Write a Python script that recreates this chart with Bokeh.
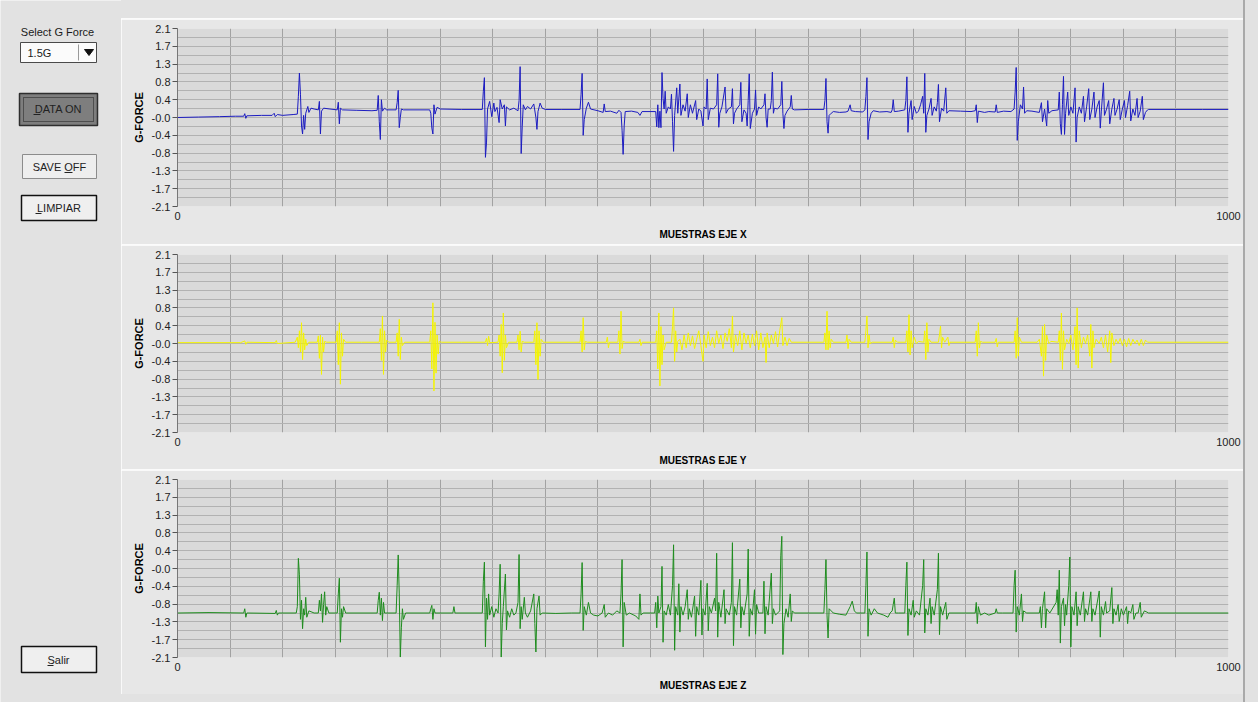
from bokeh.plotting import figure
from bokeh.models import FixedTicker, Spacer, PrintfTickFormatter
from bokeh.layouts import row, column
from bokeh.core.properties import value
from bokeh.embed import file_html
from bokeh.resources import INLINE

# ---------------- data ----------------
G_TICKS = [2.1, 1.68, 1.26, 0.84, 0.42, 0.0, -0.42, -0.84, -1.26, -1.68, -2.1]
G_TICK_LABELS = ["2.1", "1.7", "1.3", "0.8", "0.4", "-0.0", "-0.4", "-0.8", "-1.3", "-1.7", "-2.1"]
G_GRID = [2.1, 1.89, 1.68, 1.47, 1.26, 1.05, 0.84, 0.63, 0.42, 0.21, 0.0,
          -0.21, -0.42, -0.63, -0.84, -1.05, -1.26, -1.47, -1.68, -1.89, -2.1]
X_TICKS = [0, 1000]
X_GRID = [0, 50, 100, 150, 200, 250, 300, 350, 400, 450, 500, 550, 600, 650, 700,
          750, 800, 850, 900, 950, 1000]
AXIS_TITLES = ["MUESTRAS EJE X", "MUESTRAS EJE Y", "MUESTRAS EJE Z"]
Y_TITLE = "G-FORCE"

# (sample, g-force) key points
EJE_X = [
    (0, 0.00), (20, 0.01), (40, 0.02), (55, 0.03), (63, 0.03), (64, 0.09), (65, -0.02), (66, 0.04),
    (80, 0.05), (90, 0.05), (92, 0.10), (93, 0.02), (95, 0.07), (100, 0.05), (110, 0.07),
    (114, 0.08), (115, 0.50), (116, 1.05), (117, 0.55), (118, -0.20), (119, -0.39), (120, 0.05),
    (121, -0.28), (122, 0.10), (124, 0.26), (125, 0.12), (127, 0.22), (130, 0.20), (134, 0.18),
    (135, 0.38), (136, -0.39), (137, 0.15), (139, 0.22), (145, 0.20), (152, 0.18), (153, 0.36),
    (154, -0.15), (155, 0.22), (157, 0.18), (170, 0.17), (185, 0.16), (190, 0.17), (191, 0.52),
    (192, -0.10), (193, -0.52), (194, 0.42), (195, 0.15), (197, 0.22), (199, 0.18), (208, 0.18),
    (209, 0.35), (210, 0.64), (211, -0.24), (212, 0.00), (213, 0.20), (215, 0.18), (240, 0.18),
    (241, 0.10), (242, -0.25), (243, -0.39), (244, 0.30), (245, 0.08), (247, 0.24), (250, 0.20),
    (270, 0.19), (290, 0.19), (291, 0.62), (292, 0.94), (293, -0.94), (294, -0.60), (295, 0.20),
    (297, 0.38), (299, 0.02), (301, 0.34), (302, 0.14), (304, 0.24), (306, -0.12), (307, 0.42),
    (309, 0.20), (311, 0.30), (312, -0.20), (313, 0.25), (316, 0.18), (320, 0.22), (324, 0.16),
    (325, 0.40), (326, 1.20), (327, -0.85), (328, -0.22), (329, 0.30), (331, 0.18), (333, 0.26),
    (336, 0.20), (339, 0.32), (341, 0.00), (342, -0.28), (343, 0.14), (345, 0.34), (347, 0.22),
    (350, 0.19), (365, 0.19), (383, 0.19), (384, 0.55), (385, 1.04), (386, -0.42), (387, -0.05),
    (389, 0.22), (391, 0.36), (393, 0.20), (400, 0.16), (405, 0.12), (406, 0.32), (407, 0.14),
    (412, 0.15), (418, 0.10), (420, 0.17), (422, 0.12), (423, -0.30), (424, -0.87), (425, -0.20),
    (426, 0.14), (432, 0.15), (438, 0.12), (440, 0.05), (442, 0.14), (455, 0.14), (456, -0.22),
    (457, 0.30), (458, -0.24), (459, 0.15), (460, -0.24), (461, 1.06), (462, 0.45), (463, 0.20),
    (464, 0.62), (465, 0.10), (467, 0.25), (469, 0.20), (470, 0.55), (471, -0.10), (472, -0.80),
    (473, 0.05), (475, 0.70), (476, 0.10), (478, 0.79), (479, 0.05), (481, 0.30), (483, 0.15),
    (485, 0.56), (486, 0.00), (488, 0.30), (490, 0.10), (493, 0.40), (494, -0.05), (496, 0.20),
    (498, 0.15), (500, -0.20), (501, 0.25), (503, 0.20), (504, 0.91), (505, -0.05), (507, 0.22),
    (510, 0.20), (513, 0.30), (514, 1.03), (515, -0.23), (516, 0.10), (518, 0.25), (521, 0.72),
    (522, 0.10), (524, 0.20), (527, 0.25), (528, 0.68), (529, -0.15), (530, 0.10), (532, 0.20),
    (535, 0.30), (536, 0.83), (537, -0.10), (539, 0.18), (541, 0.10), (542, -0.20), (543, 0.40),
    (544, 1.03), (545, -0.26), (547, 0.10), (549, 0.20), (550, 0.65), (551, 0.05), (553, 0.25),
    (555, 0.20), (558, 0.30), (559, 0.56), (560, 0.00), (561, -0.23), (562, 0.20), (564, 0.20),
    (565, 0.40), (566, 1.07), (567, 0.10), (568, 0.22), (571, 0.20), (574, 0.30), (575, 0.85),
    (576, 0.10), (577, -0.26), (578, 0.05), (580, 0.15), (583, 0.25), (584, 0.52), (585, 0.20),
    (587, 0.18), (600, 0.19), (615, 0.19), (616, 0.40), (617, 0.92), (618, -0.10), (619, -0.37),
    (620, 0.05), (622, 0.10), (624, 0.14), (630, 0.12), (636, 0.13), (638, 0.15), (640, 0.30),
    (641, 0.16), (645, 0.14), (652, 0.13), (654, 0.18), (655, 0.50), (656, 0.94), (657, -0.52),
    (658, -0.10), (660, 0.10), (662, 0.16), (668, 0.13), (675, 0.14), (679, 0.12), (680, 0.18),
    (681, 0.42), (682, 0.14), (686, 0.15), (692, 0.18), (693, 0.40), (694, 0.96), (695, -0.35),
    (696, 0.10), (698, 0.40), (699, -0.05), (701, 0.26), (703, 0.10), (705, 0.15), (707, 0.30),
    (709, 0.50), (710, 0.10), (711, 1.04), (712, -0.35), (713, 0.05), (715, 0.20), (717, 0.45),
    (718, 0.05), (720, 0.25), (722, 0.15), (723, 0.35), (724, 0.78), (725, -0.10), (727, 0.22),
    (729, 0.15), (731, 0.70), (732, 0.10), (734, 0.16), (745, 0.15), (755, 0.14), (759, 0.16),
    (760, 0.30), (761, -0.12), (762, 0.15), (768, 0.12), (772, 0.14), (778, 0.13), (779, 0.30),
    (780, 0.12), (786, 0.15), (793, 0.14), (796, 0.20), (797, 0.60), (798, 1.18), (799, -0.54),
    (800, -0.10), (802, 0.30), (804, 0.20), (805, 0.72), (806, 0.10), (808, 0.16), (813, 0.15),
    (820, 0.12), (822, 0.35), (823, -0.10), (825, 0.20), (827, -0.20), (828, 0.40), (829, 0.10),
    (832, 0.16), (838, 0.18), (839, 0.60), (840, -0.15), (841, -0.40), (842, 0.30), (843, 0.97),
    (844, -0.40), (845, 0.10), (847, 0.60), (848, 0.05), (850, 0.25), (852, 0.10), (854, 0.70),
    (855, -0.58), (856, 0.00), (858, 0.25), (860, 0.10), (862, 0.50), (863, -0.10), (865, 0.25),
    (867, 0.68), (868, -0.05), (870, 0.20), (872, 0.60), (873, 0.00), (875, 0.25), (877, 0.40),
    (878, -0.25), (879, 0.15), (881, 0.82), (882, 0.05), (884, 0.20), (886, 0.40), (887, -0.15),
    (889, 0.20), (891, 0.45), (892, 0.05), (894, 0.20), (896, 0.42), (897, -0.05), (899, 0.20),
    (901, 0.40), (902, 0.00), (904, 0.28), (906, 0.62), (907, -0.08), (909, 0.20), (911, 0.05),
    (913, 0.45), (914, 0.00), (916, 0.15), (918, 0.50), (919, -0.05), (921, 0.12), (923, 0.18),
    (924, 0.19), (950, 0.19), (975, 0.19), (1000, 0.19),
]

EJE_Y = [
    (0, 0.02), (60, 0.02), (64, 0.06), (65, -0.02), (66, 0.03), (93, 0.02), (94, 0.07), (95, 0.00),
    (112, 0.03), (114, 0.15), (115, -0.10), (116, 0.30), (117, -0.20), (118, 0.49), (119, -0.38),
    (120, 0.25), (121, -0.15), (122, 0.10), (123, -0.05), (125, 0.03), (133, 0.03), (134, 0.18),
    (135, -0.35), (136, 0.20), (137, -0.73), (138, 0.15), (139, -0.20), (140, 0.05), (142, 0.03),
    (151, 0.03), (152, 0.30), (153, -0.50), (154, 0.49), (155, -0.96), (156, 0.25), (157, -0.30),
    (158, 0.10), (160, 0.03), (175, 0.03), (192, 0.03), (193, 0.35), (194, -0.40), (195, 0.65),
    (196, -0.73), (197, 0.30), (198, -0.20), (199, 0.08), (201, 0.03), (208, 0.03), (209, 0.25),
    (210, -0.30), (211, 0.57), (212, -0.38), (213, 0.15), (214, -0.05), (216, 0.03), (240, 0.03),
    (241, 0.30), (242, -0.60), (243, 0.96), (244, -1.12), (245, 0.50), (246, -0.70), (247, 0.20),
    (248, -0.25), (249, 0.05), (251, 0.03), (270, 0.03), (293, 0.03), (294, 0.12), (295, -0.05),
    (296, 0.17), (297, 0.02), (305, 0.03), (306, 0.20), (307, -0.30), (308, 0.45), (309, -0.69),
    (310, 0.72), (311, -0.40), (312, 0.20), (313, -0.10), (315, 0.03), (323, 0.03), (324, 0.20),
    (325, -0.15), (326, 0.29), (327, -0.20), (328, 0.05), (330, 0.03), (339, 0.03), (340, 0.30),
    (341, -0.50), (342, 0.49), (343, -0.85), (344, 0.30), (345, -0.30), (346, 0.10), (348, 0.03),
    (383, 0.03), (384, 0.30), (385, -0.20), (386, 0.61), (387, -0.15), (388, 0.05), (390, 0.03),
    (408, 0.03), (409, 0.15), (410, -0.10), (411, 0.03), (419, 0.03), (420, 0.30), (421, -0.25),
    (422, 0.76), (423, -0.12), (424, 0.05), (426, 0.03), (439, 0.03), (440, 0.10), (441, -0.05),
    (442, 0.03), (455, 0.03), (456, 0.30), (457, -0.60), (458, 0.72), (459, -1.00), (460, 0.40),
    (461, -0.50), (462, 0.20), (463, -0.15), (465, 0.03), (470, 0.03), (471, 0.40), (472, 0.84),
    (473, -0.42), (474, 0.30), (475, -0.20), (476, 0.05), (478, 0.10), (480, -0.15), (482, 0.20),
    (484, -0.10), (486, 0.25), (488, -0.05), (490, 0.18), (492, -0.12), (494, 0.10), (496, 0.30),
    (498, -0.05), (500, -0.42), (501, 0.20), (503, -0.10), (505, 0.28), (507, -0.05), (509, 0.15),
    (511, -0.10), (513, 0.30), (515, 0.00), (517, 0.20), (519, -0.12), (521, 0.25), (523, 0.05),
    (525, 0.35), (527, -0.10), (528, 0.65), (529, -0.20), (531, 0.20), (533, -0.05), (535, 0.30),
    (537, -0.15), (539, 0.25), (541, 0.00), (543, 0.20), (545, -0.10), (547, 0.22), (549, -0.05),
    (551, 0.30), (553, -0.15), (555, 0.25), (557, -0.10), (559, 0.15), (560, -0.45), (561, 0.25),
    (563, -0.10), (565, 0.20), (567, 0.00), (569, 0.28), (571, -0.08), (573, 0.30), (575, 0.61),
    (576, -0.05), (578, 0.15), (580, -0.05), (582, 0.12), (584, 0.03), (600, 0.03), (615, 0.03),
    (616, 0.25), (617, -0.15), (618, 0.76), (619, -0.15), (620, 0.30), (621, -0.10), (622, 0.10),
    (624, 0.03), (636, 0.03), (637, 0.20), (638, -0.12), (639, 0.10), (641, 0.03), (654, 0.03),
    (655, 0.30), (656, 0.65), (657, -0.10), (658, 0.20), (659, 0.00), (661, 0.03), (680, 0.03),
    (681, 0.15), (682, -0.10), (683, 0.08), (685, 0.03), (693, 0.03), (694, 0.30), (695, -0.20),
    (696, 0.68), (697, -0.27), (698, 0.30), (699, -0.10), (701, 0.15), (703, 0.00), (705, 0.05),
    (710, 0.03), (711, 0.30), (712, -0.38), (713, 0.49), (714, -0.20), (715, 0.10), (717, 0.03),
    (724, 0.03), (725, 0.20), (726, 0.41), (727, -0.10), (728, 0.15), (730, 0.03), (733, 0.15),
    (734, -0.05), (735, 0.03), (759, 0.03), (760, 0.30), (761, -0.30), (762, 0.49), (763, -0.10),
    (764, 0.05), (766, 0.03), (778, 0.03), (779, 0.12), (780, -0.08), (781, 0.03), (796, 0.03),
    (797, 0.30), (798, -0.35), (799, 0.61), (800, -0.30), (801, 0.15), (803, 0.03), (818, 0.03),
    (820, 0.10), (822, -0.30), (823, 0.40), (824, -0.77), (825, 0.45), (826, -0.40), (827, 0.20),
    (829, 0.00), (831, 0.05), (838, 0.03), (839, 0.30), (840, -0.40), (841, 0.72), (842, -0.61),
    (843, 0.30), (844, -0.15), (846, 0.10), (848, 0.00), (850, 0.20), (852, -0.15), (854, 0.40),
    (855, -0.50), (856, 0.84), (857, -0.58), (858, 0.30), (860, -0.10), (862, 0.15), (864, 0.00),
    (866, 0.20), (868, -0.30), (869, 0.45), (870, -0.58), (871, 0.30), (872, -0.10), (874, 0.10),
    (877, 0.00), (879, 0.15), (881, -0.10), (883, 0.20), (885, -0.20), (887, 0.30), (888, -0.45),
    (889, 0.25), (891, -0.05), (893, 0.10), (895, 0.00), (897, 0.12), (899, -0.05), (901, 0.10),
    (903, -0.08), (905, 0.12), (907, -0.05), (909, 0.10), (911, 0.00), (913, 0.08), (915, -0.05),
    (917, 0.10), (919, -0.05), (921, 0.08), (923, 0.03), (1000, 0.03),
]

EJE_Z = [
    (0, -1.05), (30, -1.04), (63, -1.05), (64, -0.95), (65, -1.15), (66, -1.05), (93, -1.06),
    (94, -0.99), (95, -1.10), (96, -1.05), (113, -1.05), (114, -0.90), (115, 0.24), (116, -0.15),
    (117, -1.20), (118, -0.75), (119, -1.42), (120, -0.95), (121, -1.10), (122, -0.68), (123, -1.15),
    (125, -1.00), (130, -1.05), (134, -1.05), (135, -0.75), (136, -1.00), (137, -0.60), (138, -1.27),
    (139, -0.85), (140, -0.55), (141, -1.10), (142, -0.90), (144, -1.05), (152, -1.05), (153, -0.60),
    (154, -0.23), (155, -1.74), (156, -0.95), (157, -1.15), (158, -0.90), (160, -1.05), (190, -1.05),
    (191, -0.75), (192, -0.56), (193, -1.10), (194, -0.70), (195, -1.23), (196, -0.80), (197, -1.05),
    (208, -1.05), (209, -0.40), (210, 0.32), (211, -0.60), (212, -2.09), (213, -1.40), (214, -0.95),
    (215, -1.20), (217, -1.05), (240, -1.05), (241, -0.95), (242, -0.87), (243, -1.20), (244, -0.95),
    (245, -1.05), (262, -1.05), (263, -0.90), (264, -1.05), (290, -1.05), (291, -0.30), (292, 0.15),
    (293, -1.85), (294, -0.70), (295, -1.20), (296, -0.60), (297, -1.10), (299, -0.90), (301, -1.15),
    (303, -0.95), (305, -1.05), (306, -0.60), (307, 0.10), (308, -2.09), (309, -1.30), (310, -0.90),
    (312, -0.13), (313, -1.45), (314, -1.00), (316, -1.15), (318, -0.95), (320, -1.10), (322, -1.05),
    (324, -0.80), (325, 0.33), (326, -1.42), (327, -0.90), (328, -1.20), (330, -0.68), (331, -1.05),
    (333, -1.15), (336, -1.00), (339, -0.60), (340, -1.30), (341, -1.97), (342, -0.95), (344, -0.65),
    (345, -1.10), (347, -1.05), (360, -1.06), (375, -1.05), (383, -1.05), (384, -0.60), (385, 0.14),
    (386, -1.46), (387, -0.90), (389, -1.10), (391, -0.80), (393, -1.05), (396, -1.10), (400, -1.12),
    (404, -1.05), (406, -0.85), (407, -1.15), (410, -1.05), (414, -1.10), (418, -1.00), (421, -1.05),
    (422, -0.60), (423, 0.21), (424, -1.85), (425, -0.80), (427, -1.10), (430, -1.05), (436, -1.12),
    (439, -1.20), (440, -0.60), (441, -1.10), (443, -1.05), (454, -1.05), (455, -0.80), (456, -1.40),
    (457, -0.65), (458, -1.05), (460, -0.90), (461, 0.05), (462, -1.74), (463, -1.00), (465, -1.10),
    (467, -0.85), (469, -1.10), (471, -0.40), (472, 0.56), (473, -1.93), (474, -0.90), (476, -1.10),
    (477, -0.36), (478, -1.50), (479, -0.90), (481, -1.10), (483, -0.90), (485, -0.50), (486, -1.20),
    (487, -0.95), (489, -1.15), (492, -0.65), (493, -1.60), (494, -0.90), (496, -1.10), (498, -0.28),
    (499, -1.57), (500, -0.95), (502, -1.10), (504, -0.35), (505, -1.47), (506, -0.90), (508, -1.05),
    (511, -0.70), (512, -1.00), (513, 0.36), (514, -1.62), (515, -0.80), (517, -1.15), (520, -0.50),
    (521, -1.30), (522, -0.95), (525, -1.10), (527, -0.80), (528, 0.61), (529, -1.82), (530, -0.90),
    (532, -1.10), (535, -0.25), (536, -1.40), (537, -0.90), (539, -1.10), (542, -0.60), (543, 0.46),
    (544, -1.60), (545, -0.95), (547, -1.10), (549, -0.50), (550, -1.55), (551, -0.85), (553, -1.05),
    (557, -1.05), (558, -0.30), (559, -1.54), (560, -0.90), (562, -1.10), (565, -0.11), (566, -1.30),
    (567, -0.95), (569, -1.10), (573, -1.00), (574, 0.30), (575, 0.76), (576, -2.03), (577, -1.30),
    (579, -0.95), (581, -1.15), (583, -0.60), (584, -1.25), (585, -1.00), (587, -1.05), (600, -1.05),
    (615, -1.05), (616, -0.50), (617, 0.21), (618, -1.10), (619, -1.64), (620, -0.95), (622, -1.00),
    (624, -1.05), (630, -1.08), (636, -1.10), (640, -0.90), (642, -0.77), (644, -1.00), (646, -1.05),
    (654, -1.05), (655, -0.40), (656, 0.39), (657, -1.60), (658, -0.95), (660, -1.10), (663, -0.95),
    (666, -1.05), (672, -1.10), (676, -1.15), (678, -1.05), (680, -1.00), (681, -0.85), (682, -0.70),
    (683, -1.05), (686, -1.05), (692, -1.05), (693, -0.40), (694, 0.15), (695, -1.58), (696, -0.95),
    (698, -1.10), (700, -0.75), (701, -1.15), (703, -1.00), (706, -1.10), (709, -0.40), (710, 0.21),
    (711, -1.52), (712, -0.95), (714, -1.10), (716, -0.70), (717, -1.30), (718, -0.90), (720, -1.10),
    (723, -0.50), (724, 0.36), (725, -1.56), (726, -0.90), (728, -1.10), (731, -0.80), (732, -1.20),
    (734, -1.05), (750, -1.05), (759, -1.05), (760, -0.80), (761, -1.30), (762, -0.90), (764, -1.10),
    (768, -1.05), (772, -1.10), (778, -1.05), (779, -0.95), (780, -1.05), (785, -1.05), (795, -1.05),
    (796, -0.40), (797, -0.04), (798, -1.50), (799, -0.90), (801, -1.10), (803, -0.60), (804, -1.25),
    (805, -1.00), (808, -1.05), (814, -1.05), (820, -1.05), (821, -0.90), (822, -1.40), (823, -0.95),
    (825, -0.55), (826, -1.40), (827, -0.95), (830, -1.05), (836, -0.80), (837, -0.50), (838, -1.10),
    (839, -0.04), (840, -1.76), (841, -0.90), (843, -0.70), (844, -1.35), (845, -0.85), (846, -1.10),
    (848, -0.40), (849, 0.27), (850, -1.85), (851, -0.90), (853, -1.10), (855, -0.55), (856, -1.35),
    (857, -0.90), (859, -1.10), (862, -0.55), (863, -1.25), (864, -0.95), (866, -1.10), (869, -0.55),
    (870, -1.25), (871, -0.95), (873, -1.10), (877, -0.53), (878, -1.62), (879, -0.90), (881, -1.10),
    (883, -0.78), (884, -1.05), (887, -1.00), (889, -0.45), (890, -1.30), (891, -0.95), (893, -1.10),
    (895, -0.85), (896, -1.25), (898, -0.95), (900, -1.10), (903, -0.90), (904, -1.30), (905, -1.00),
    (907, -1.05), (909, -0.85), (910, -1.20), (912, -1.05), (914, -1.05), (916, -0.80), (917, -1.15),
    (920, -1.00), (924, -1.05), (1000, -1.05),
]

SERIES = [EJE_X, EJE_Y, EJE_Z]
SERIES_COLORS = ["#1c1cc0", "#f4f400", "#1e8c1e"]

# control panel texts
G_FORCE_LABEL = "Select G Force"
G_FORCE_CHOICE = "1.5G"
BUTTONS = ["DATA ON", "SAVE OFF", "LIMPIAR", "Salir"]

# ---------------- styling ----------------
WINDOW_BG = "#e2e2e2"
PANEL_BG = "#e7e7e7"
PLOT_BG = "#dadada"
FONT = "Liberation Sans"


def make_chart(pts, color, title, height, bottom):
    xs = [q[0] for q in pts]
    ys = [q[1] for q in pts]
    f = figure(width=1122, height=height, x_range=(0, 1000), y_range=(-2.1, 2.1),
               min_border_left=56, min_border_right=15, min_border_top=9,
               min_border_bottom=bottom, toolbar_location=None, tools="",
               output_backend="svg")
    f.background_fill_color = PLOT_BG
    f.border_fill_color = PANEL_BG
    f.outline_line_color = None
    f.xgrid.ticker = FixedTicker(ticks=X_GRID)
    f.ygrid.ticker = FixedTicker(ticks=G_GRID)
    f.xgrid.grid_line_color = "#a2a2a2"
    f.ygrid.grid_line_color = "#b2b2b2"
    f.line(xs, ys, line_color=color, line_width=1)

    xa = f.xaxis[0]
    xa.ticker = FixedTicker(ticks=X_TICKS)
    xa.axis_label = title
    xa.axis_label_text_font = FONT
    xa.axis_label_text_font_style = "bold"
    xa.axis_label_text_font_size = "10px"
    xa.axis_label_text_color = "#000000"
    xa.axis_label_standoff = 6
    xa.major_label_text_font = FONT
    xa.major_label_text_font_size = "11px"
    xa.major_label_text_color = "#222222"
    xa.major_label_standoff = 5
    xa.major_tick_in = 0
    xa.major_tick_out = 0
    xa.minor_tick_line_color = None
    xa.axis_line_color = None

    ya = f.yaxis[0]
    ya.ticker = FixedTicker(ticks=G_TICKS)
    ya.formatter = PrintfTickFormatter(format="%.1f")
    ya.major_label_overrides = dict(zip(G_TICKS, G_TICK_LABELS))
    ya.axis_label = Y_TITLE
    ya.axis_label_text_font = FONT
    ya.axis_label_text_font_style = "bold"
    ya.axis_label_text_font_size = "11px"
    ya.axis_label_text_color = "#000000"
    ya.axis_label_standoff = 4
    ya.major_label_text_font = FONT
    ya.major_label_text_font_size = "11px"
    ya.major_label_text_color = "#222222"
    ya.major_label_standoff = 2
    ya.major_tick_in = 0
    ya.major_tick_out = 5
    ya.major_tick_line_color = "#555555"
    ya.minor_tick_line_color = None
    ya.axis_line_color = "#777777"
    return f


charts = [
    make_chart(SERIES[0], SERIES_COLORS[0], AXIS_TITLES[0], 225, 38),
    make_chart(SERIES[1], SERIES_COLORS[1], AXIS_TITLES[1], 224, 37),
    make_chart(SERIES[2], SERIES_COLORS[2], AXIS_TITLES[2], 224, 37),
]

# ---------------- control panel (page pixel coordinates) ----------------
ctrl = figure(width=121, height=702, x_range=(0, 121), y_range=(702, 0),
              min_border=0, toolbar_location=None, tools="", output_backend="svg",
              x_axis_type=None, y_axis_type=None)
ctrl.grid.visible = False
ctrl.background_fill_color = WINDOW_BG
ctrl.border_fill_color = WINDOW_BG
ctrl.outline_line_color = None

tf = value(FONT)
ctrl.text(x=[57], y=[31], text=[G_FORCE_LABEL], text_font=tf, text_font_size="11px",
          text_align="center", text_baseline="middle", text_color="#1a1a1a")
# drop-down
ctrl.quad(left=[20], right=[96], top=[42], bottom=[62], fill_color="#fbfbfb",
          line_color="#4a4a4a", line_width=1)
ctrl.segment(x0=[78], y0=[44], x1=[78], y1=[60], line_color="#9a9a9a", line_width=1)
ctrl.patch(x=[84, 93, 88.5], y=[49, 49, 55], fill_color="#111111", line_color="#111111")
ctrl.text(x=[27], y=[52.5], text=[G_FORCE_CHOICE], text_font=tf, text_font_size="11px",
          text_align="left", text_baseline="middle", text_color="#1a1a1a")

# DATA ON (pressed)
ctrl.quad(left=[19], right=[97], top=[93], bottom=[125], fill_color="#7e7e7e",
          line_color="#2e2e2e", line_width=1.5)
ctrl.quad(left=[23], right=[93], top=[97], bottom=[121], fill_color=None,
          line_color="#1e1e1e", line_width=1, line_dash="1 1")
# SAVE OFF
ctrl.quad(left=[22], right=[96], top=[154], bottom=[178], fill_color="#eeeeee",
          line_color="#8c8c8c", line_width=1)
# LIMPIAR / Salir (default buttons)
ctrl.quad(left=[21, 21], right=[96, 96], top=[195, 646], bottom=[220, 672],
          fill_color="#efefef", line_color="#111111", line_width=1.5)

ctrl.text(x=[58, 59, 58.5, 58], y=[108.5, 166, 207.5, 659], text=BUTTONS, text_font=tf,
          text_font_size="11px", text_align="center", text_baseline="middle",
          text_color="#222222")
# mnemonic underlines
ctrl.segment(x0=[33, 64, 35, 47], y0=[114, 172, 213, 665], x1=[40, 72, 41, 53],
             y1=[114, 172, 213, 665], line_color="#222222", line_width=1)

# ---------------- layout ----------------
def strip(h, color):
    return Spacer(width=1122, height=h, styles={"background-color": color})

right_col = column(strip(18, WINDOW_BG), strip(1, "#fbfbfb"), charts[0],
                   strip(1, "#fbfbfb"), charts[1], strip(1, "#fbfbfb"), charts[2],
                   strip(8, WINDOW_BG))
shadow = Spacer(width=2, height=702, styles={"background-color": "#a9a9a9"})
right_edge = Spacer(width=13, height=702, styles={"background-color": WINDOW_BG})
p = row(ctrl, right_col, shadow, right_edge)

open("out.html", "w").write(file_html(p, INLINE))
